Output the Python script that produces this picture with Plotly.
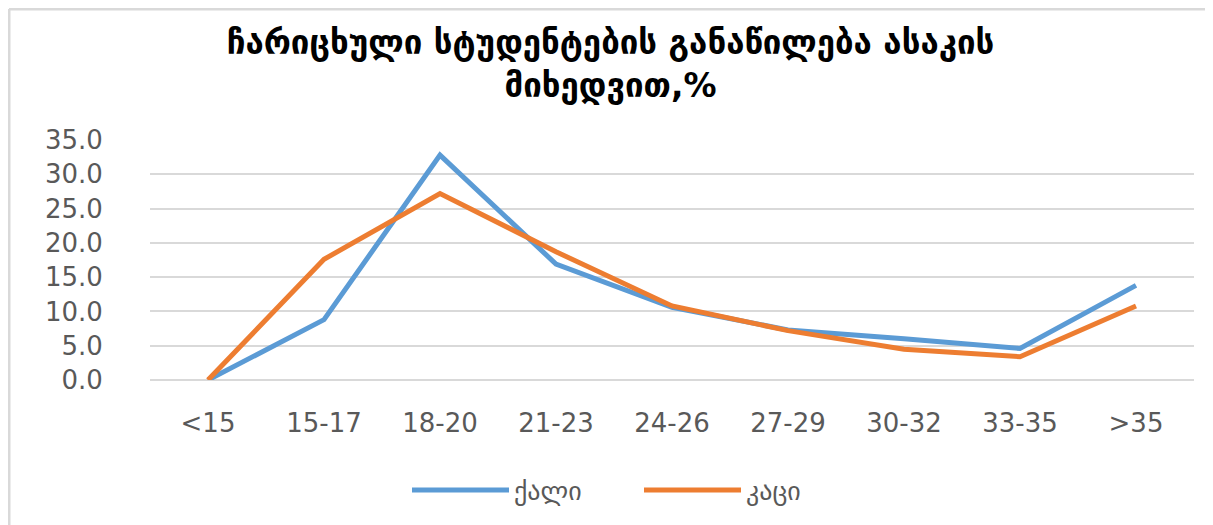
import plotly.graph_objects as go

categories = ["<15", "15-17", "18-20", "21-23", "24-26", "27-29", "30-32", "33-35", ">35"]
women = [0.0, 8.8, 32.8, 16.9, 10.6, 7.3, 6.0, 4.6, 13.8]
men = [0.0, 17.6, 27.2, 18.7, 10.8, 7.2, 4.5, 3.4, 10.8]
series_names = ["ქალი", "კაცი"]
title_text = "ჩარიცხული სტუდენტების განაწილება ასაკის<br>მიხედვით,%"
y_ticks = [0, 5, 10, 15, 20, 25, 30, 35]

W, H = 1205, 517
L, R, T, B = 142, 19, 132, 145
pw, ph = W - L - R, H - T - B

fig = go.Figure()
fig.add_trace(go.Scatter(x=categories, y=women, name=series_names[0], mode="lines",
                         line=dict(color="#5B9BD5", width=5)))
fig.add_trace(go.Scatter(x=categories, y=men, name=series_names[1], mode="lines",
                         line=dict(color="#ED7D31", width=5)))

tick_font = dict(family="DejaVu Sans", size=26, color="#595959")

fig.update_layout(
    width=W, height=H,
    paper_bgcolor="white", plot_bgcolor="white",
    margin=dict(l=L, r=R, t=T, b=B),
    title=dict(text=title_text, x=0.5, xanchor="center", y=1 - 46 / H, yanchor="middle",
               font=dict(family="DejaVu Sans", size=33, color="black", weight="bold")),
    font=dict(family="DejaVu Sans", size=26, color="#595959"),
    xaxis=dict(type="category", range=[-0.5, 8.5], showgrid=False, showline=False, zeroline=False,
               ticks="outside", ticklen=20, tickcolor="rgba(0,0,0,0)", tickfont=tick_font),
    yaxis=dict(range=[0, 35], tickvals=y_ticks, tickformat=".1f",
               showgrid=True, gridcolor="#D9D9D9", gridwidth=2,
               zeroline=True, zerolinecolor="#D9D9D9", zerolinewidth=2,
               showline=False, ticks="outside", ticklen=41, tickcolor="rgba(0,0,0,0)",
               tickfont=tick_font),
    legend=dict(orientation="h", x=0.5 - 33 / pw, xanchor="center", y=-(482 - (H - B)) / ph,
                yanchor="middle",
                font=dict(family="DejaVu Sans", size=26, color="#595959"),
                itemwidth=97, entrywidth=120),
    showlegend=True,
)

fig.add_shape(type="line", xref="paper", yref="paper", x0=-(L - 1) / pw, x1=1 + R / pw,
              y0=1 + (T - 1) / ph, y1=1 + (T - 1) / ph,
              line=dict(color="#D9D9D9", width=3))
fig.add_shape(type="line", xref="paper", yref="paper", x0=-(L - 1) / pw, x1=-(L - 1) / pw,
              y0=1 + (T - 1) / ph, y1=-B / ph,
              line=dict(color="#D9D9D9", width=3))

fig.write_html("out.html")
